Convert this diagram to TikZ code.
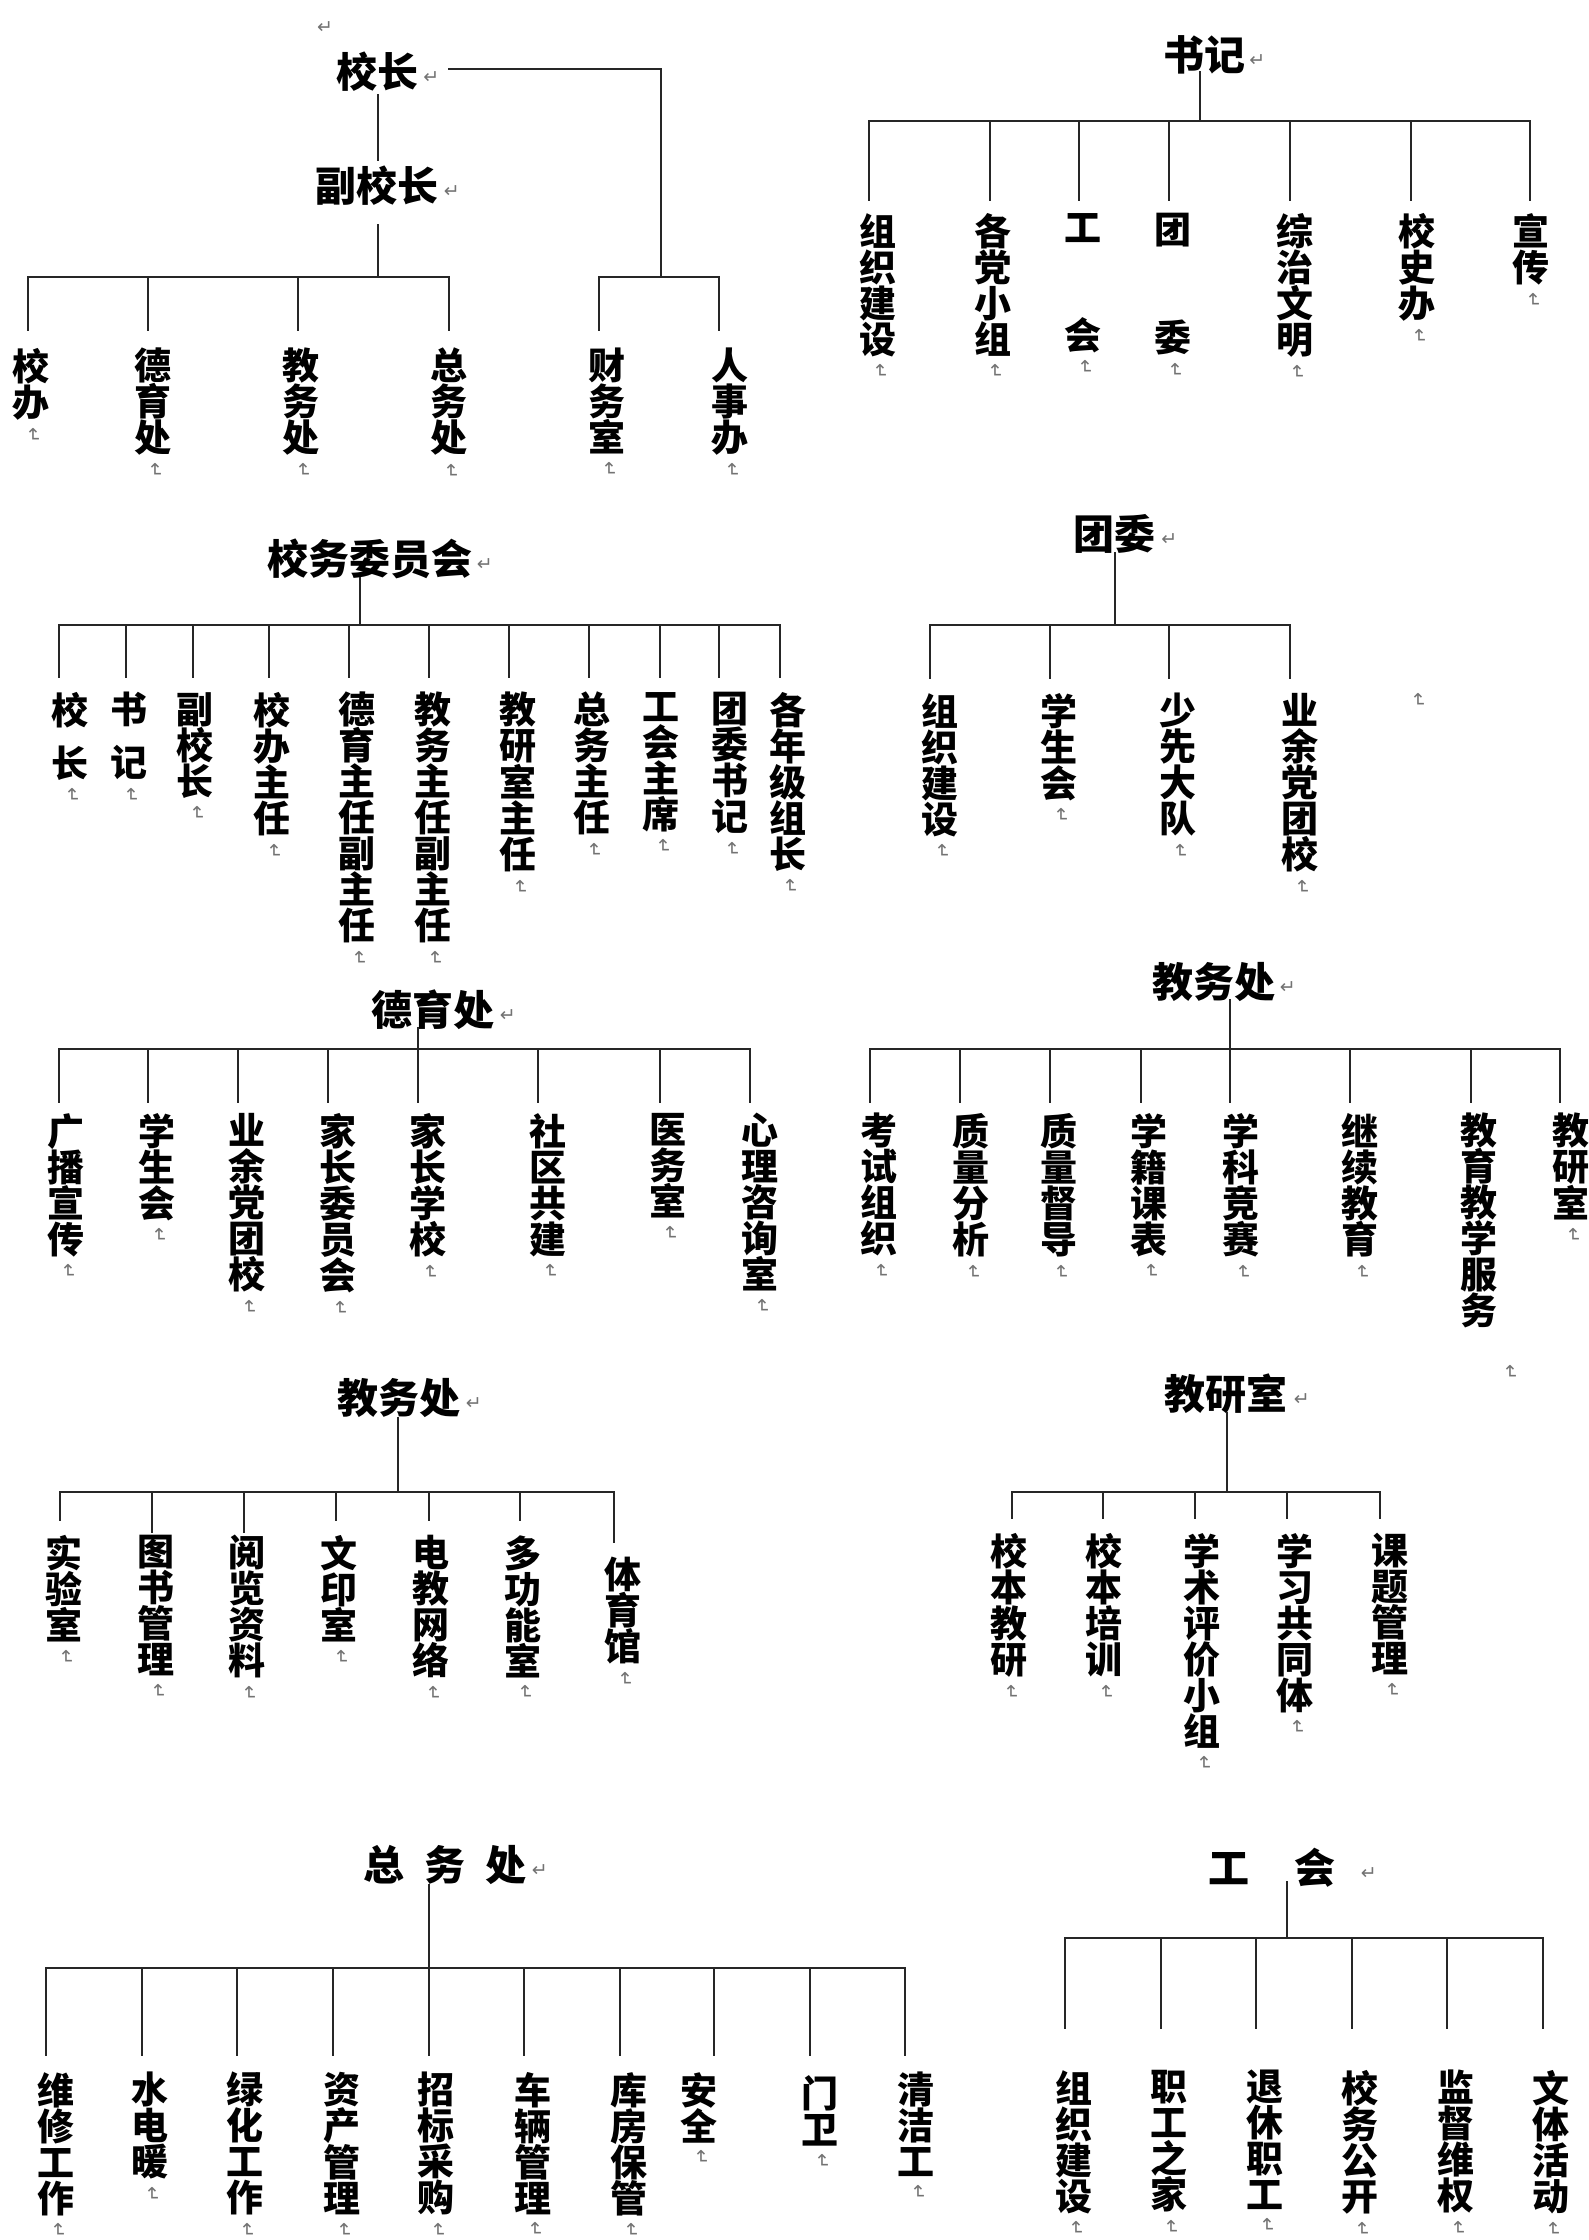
\documentclass[tikz,border=0pt]{standalone}
\usepackage{fontspec}
\newfontfamily\cjk{Noto Sans CJK SC}
\newfontfamily\dejavu{DejaVu Sans}
\tikzset{
  ln/.style={line width=1.5pt, draw=black!85, line cap=rect},
  ttl/.style={font=\cjk\bfseries\fontsize{41}{41}\selectfont, inner sep=0pt},
  vl/.style={font=\cjk\bfseries\fontsize{37}{36}\selectfont, align=center, anchor=north, inner sep=0pt},
  pm/.style={font=\dejavu\fontsize{19}{19}\selectfont, text=black!55, inner sep=0pt},
  vm/.style={pm, rotate=-90},
}
% child without paragraph mark: name, drop x, bar y, drop end y, label x, label top y, text
\newcommand\kidn[7]{%
  \coordinate (#1b) at (#2,#3);
  \coordinate (#1e) at (#2,#4);
  \draw[ln] (#1b) -- (#1e);
  \node[vl] (#1) at (#5,#6) {#7};
}
\newcommand\kid[7]{%
  \kidn{#1}{#2}{#3}{#4}{#5}{#6}{#7}
  \node[vm] (#1m) at ([xshift=2pt,yshift=-15pt]#1.south) {↵};
}
\newcommand\tmark[2]{%
  \node[pm,anchor=west] (#1m) at ([xshift=#2,yshift=-6pt]#1.east) {↵};
}
\begin{document}
\begin{tikzpicture}[x=1pt,y=-1pt]
\fill[white] (0,0) rectangle (1588,2240);
\useasboundingbox (0,0) rectangle (1588,2240);

% ---------- Chart 1: 校长 ----------
\node[pm] (s0) at (325,28) {↵};
\node[ttl] (t1) at (377,72) {校长};
\tmark{t1}{5pt}
\node[ttl] (t2) at (377,186) {副校长};
\tmark{t2}{5pt}
\coordinate (t1s) at (378,95); \coordinate (t2n) at (378,160);
\draw[ln] (t1s) -- (t2n);
\coordinate (t2s) at (378,225); \coordinate (j1) at (378,277);
\draw[ln] (t2s) -- (j1);
\kid{a1}{28}{277}{330}{31}{348}{校\\办}
\kid{a2}{148}{277}{330}{153}{348}{德\\育\\处}
\kid{a3}{298}{277}{330}{301}{348}{教\\务\\处}
\kid{a4}{449}{277}{330}{449}{348}{总\\务\\处}
\draw[ln] (a1b) -- (a4b);
\coordinate (t1r) at (449,69); \coordinate (j2) at (661,277);
\draw[ln] (t1r) -| (j2);
\kid{a5}{599}{277}{330}{607}{348}{财\\务\\室}
\kid{a6}{719}{277}{330}{730}{348}{人\\事\\办}
\draw[ln] (a5b) -- (a6b);

% ---------- Chart 2: 书记 ----------
\node[ttl] (t3) at (1204,55) {书记};
\tmark{t3}{4pt}
\coordinate (t3s) at (1200,72); \coordinate (j3) at (1200,121);
\draw[ln] (t3s) -- (j3);
\kid{b1}{869}{121}{200}{878}{213}{组\\织\\建\\设}
\kid{b2}{990}{121}{200}{993}{213}{各\\党\\小\\组}
\kid{b3}{1079}{121}{200}{1083}{213}{工\\[72pt]会}
\kid{b4}{1169}{121}{200}{1173}{213}{团\\[72pt]委}
\kid{b5}{1290}{121}{200}{1295}{213}{综\\治\\文\\明}
\kid{b6}{1411}{121}{200}{1417}{213}{校\\史\\办}
\kid{b7}{1530}{121}{200}{1531}{213}{宣\\传}
\draw[ln] (b1b) -- (b7b);

% ---------- Chart 3: 校务委员会 ----------
\node[ttl] (t5) at (370,559) {校务委员会};
\tmark{t5}{4pt}
\coordinate (t5s) at (360,578); \coordinate (j5) at (360,625);
\draw[ln] (t5s) -- (j5);
\kid{c1}{59}{625}{677}{70}{692}{校\\[17pt]长}
\kid{c2}{126}{625}{677}{129}{692}{书\\[17pt]记}
\kid{c3}{193}{625}{677}{195}{692}{副\\校\\长}
\kid{c4}{269}{625}{677}{272}{692}{校\\办\\主\\任}
\kid{c5}{349}{625}{677}{357}{692}{德\\育\\主\\任\\副\\主\\任}
\kid{c6}{429}{625}{677}{433}{692}{教\\务\\主\\任\\副\\主\\任}
\kid{c7}{509}{625}{677}{518}{692}{教\\研\\室\\主\\任}
\kid{c8}{589}{625}{677}{592}{692}{总\\务\\主\\任}
\kid{c9}{660}{625}{677}{661}{692}{工\\会\\主\\席}
\kid{c10}{719}{625}{677}{730}{692}{团\\委\\书\\记}
\kid{c11}{780}{625}{677}{788}{692}{各\\年\\级\\组\\长}
\draw[ln] (c1b) -- (c11b);

% ---------- Chart 4: 团委 ----------
\node[ttl] (t6) at (1114,534) {团委};
\tmark{t6}{6pt}
\coordinate (t6s) at (1115,553); \coordinate (j6) at (1115,625);
\draw[ln] (t6s) -- (j6);
\kid{d1}{930}{625}{678}{940}{693}{组\\织\\建\\设}
\kid{d2}{1050}{625}{678}{1059}{693}{学\\生\\会}
\kid{d3}{1169}{625}{678}{1178}{693}{少\\先\\大\\队}
\kid{d4}{1290}{625}{678}{1300}{693}{业\\余\\党\\团\\校}
\draw[ln] (d1b) -- (d4b);
\node[vm] (s1) at (1418,700) {↵};

% ---------- Chart 5: 德育处 ----------
\node[ttl] (t7) at (433,1010) {德育处};
\tmark{t7}{5pt}
\coordinate (t7s) at (418,1028); \coordinate (j7) at (418,1049);
\draw[ln] (t7s) -- (j7);
\kid{e1}{59}{1049}{1102}{66}{1113}{广\\播\\宣\\传}
\kid{e2}{148}{1049}{1102}{157}{1113}{学\\生\\会}
\kid{e3}{238}{1049}{1102}{247}{1113}{业\\余\\党\\团\\校}
\kid{e4}{328}{1049}{1102}{338}{1113}{家\\长\\委\\员\\会}
\kid{e5}{418}{1049}{1102}{428}{1113}{家\\长\\学\\校}
\kid{e6}{538}{1049}{1102}{548}{1113}{社\\区\\共\\建}
\kid{e7}{660}{1049}{1102}{668}{1113}{医\\务\\室}
\kid{e8}{750}{1049}{1102}{760}{1113}{心\\理\\咨\\询\\室}
\draw[ln] (e1b) -- (e8b);

% ---------- Chart 6: 教务处 (right) ----------
\node[ttl] (t8) at (1214,982) {教务处};
\tmark{t8}{4pt}
\coordinate (t8s) at (1230,1000); \coordinate (j8) at (1230,1049);
\draw[ln] (t8s) -- (j8);
\kid{f1}{870}{1049}{1102}{879}{1113}{考\\试\\组\\织}
\kid{f2}{960}{1049}{1102}{971}{1113}{质\\量\\分\\析}
\kid{f3}{1050}{1049}{1102}{1059}{1113}{质\\量\\督\\导}
\kid{f4}{1141}{1049}{1102}{1149}{1113}{学\\籍\\课\\表}
\kid{f5}{1230}{1049}{1102}{1241}{1113}{学\\科\\竞\\赛}
\kid{f6}{1350}{1049}{1102}{1360}{1113}{继\\续\\教\\育}
\kidn{f7}{1471}{1049}{1102}{1479}{1113}{教\\育\\教\\学\\服\\务}
\kid{f8}{1560}{1049}{1102}{1571}{1113}{教\\研\\室}
\draw[ln] (f1b) -- (f8b);
\node[vm] (f7m) at (1510,1372) {↵};

% ---------- Chart 7: 教务处 (left) ----------
\node[ttl] (t9) at (399,1398) {教务处};
\tmark{t9}{5pt}
\coordinate (t9s) at (398,1418); \coordinate (j9) at (398,1492);
\draw[ln] (t9s) -- (j9);
\kid{g1}{60}{1492}{1520}{64}{1535}{实\\验\\室}
\kid{g2}{152}{1492}{1532}{156}{1535}{图\\书\\管\\理}
\kid{g3}{244}{1492}{1532}{247}{1535}{阅\\览\\资\\料}
\kid{g4}{336}{1492}{1520}{339}{1535}{文\\印\\室}
\kid{g5}{429}{1492}{1520}{431}{1535}{电\\教\\网\\络}
\kid{g6}{520}{1492}{1520}{523}{1535}{多\\功\\能\\室}
\kid{g7}{614}{1492}{1542}{623}{1557}{体\\育\\馆}
\draw[ln] (g1b) -- (g7b);

% ---------- Chart 8: 教研室 ----------
\node[ttl] (t10) at (1226,1394) {教研室};
\tmark{t10}{6pt}
\coordinate (t10s) at (1227,1413); \coordinate (j10) at (1227,1492);
\draw[ln] (t10s) -- (j10);
\kid{h1}{1012}{1492}{1518}{1009}{1533}{校\\本\\教\\研}
\kid{h2}{1103}{1492}{1518}{1104}{1533}{校\\本\\培\\训}
\kid{h3}{1195}{1492}{1518}{1202}{1533}{学\\术\\评\\价\\小\\组}
\kid{h4}{1287}{1492}{1518}{1295}{1533}{学\\习\\共\\同\\体}
\kid{h5}{1380}{1492}{1518}{1390}{1533}{课\\题\\管\\理}
\draw[ln] (h1b) -- (h5b);

% ---------- Chart 9: 总务处 ----------
\node[ttl] (t11) at (445,1865) {总\hspace{20pt}务\hspace{20pt}处};
\tmark{t11}{5pt}
\coordinate (t11s) at (429,1885); \coordinate (j11) at (429,1968);
\draw[ln] (t11s) -- (j11);
\kid{k1}{46}{1968}{2055}{56}{2072}{维\\修\\工\\作}
\kid{k2}{142}{1968}{2055}{150}{2072}{水\\电\\暖}
\kid{k3}{237}{1968}{2055}{245}{2072}{绿\\化\\工\\作}
\kid{k4}{333}{1968}{2055}{342}{2072}{资\\产\\管\\理}
\kid{k5}{429}{1968}{2055}{436}{2072}{招\\标\\采\\购}
\kid{k6}{524}{1968}{2055}{533}{2072}{车\\辆\\管\\理}
\kid{k7}{620}{1968}{2055}{629}{2072}{库\\房\\保\\管}
\kid{k8}{714}{1968}{2055}{699}{2072}{安\\全}
\kid{k9}{810}{1968}{2055}{820}{2075}{门\\卫}
\kid{k10}{905}{1968}{2055}{916}{2072}{清\\洁\\工}
\draw[ln] (k1b) -- (k10b);

% ---------- Chart 10: 工会 ----------
\node[ttl] (t12) at (1272,1868) {工\hspace{45pt}会};
\tmark{t12}{25pt}
\coordinate (t12s) at (1287,1882); \coordinate (j12) at (1287,1938);
\draw[ln] (t12s) -- (j12);
\kid{m1}{1065}{1938}{2028}{1074}{2070}{组\\织\\建\\设}
\kid{m2}{1161}{1938}{2028}{1169}{2070}{职\\工\\之\\家}
\kid{m3}{1256}{1938}{2028}{1265}{2070}{退\\休\\职\\工}
\kid{m4}{1352}{1938}{2028}{1360}{2070}{校\\务\\公\\开}
\kid{m5}{1447}{1938}{2028}{1456}{2070}{监\\督\\维\\权}
\kid{m6}{1543}{1938}{2028}{1551}{2070}{文\\体\\活\\动}
\draw[ln] (m1b) -- (m6b);
\end{tikzpicture}
\end{document}
